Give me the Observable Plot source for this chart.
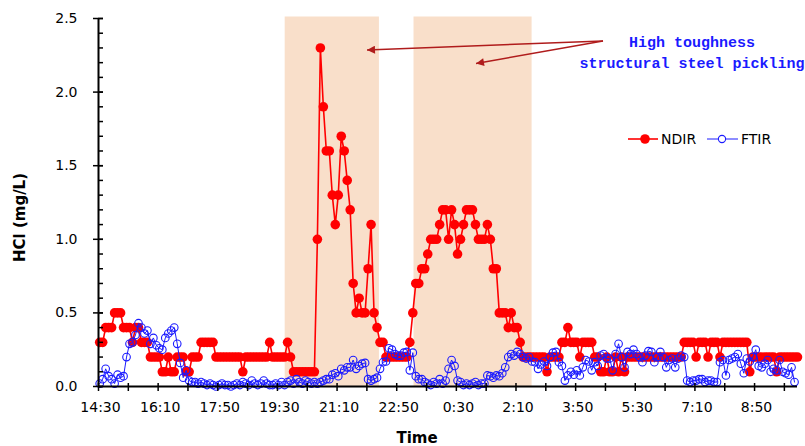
<!DOCTYPE html>
<html>
<head>
<meta charset="utf-8">
<script src="https://cdn.jsdelivr.net/npm/d3@7"></script>
<script src="https://cdn.jsdelivr.net/npm/@observablehq/plot@0.6"></script>
<style>
  html, body { margin: 0; padding: 0; background: #fff; }
  #chart { width: 805px; height: 446px; }
</style>
</head>
<body>
<div id="chart"></div>
<script>
// ---- data ----
const startTime = "14:30";
const sampleStepMin = 5;
const firstSampleOffsetMin = 2;

const ndir = [
  0.3,0.3,0.4,0.4,0.4,0.5,0.5,0.5,0.4,0.4,
  0.4,0.3,0.4,0.4,0.3,0.3,0.3,0.2,0.2,0.2,
  0.2,0.1,0.1,0.2,0.1,0.1,0.2,0.2,0.2,0.1,
  0.1,0.2,0.2,0.2,0.3,0.3,0.3,0.3,0.3,0.2,
  0.2,0.2,0.2,0.2,0.2,0.2,0.2,0.2,0.1,0.2,
  0.2,0.2,0.2,0.2,0.2,0.2,0.2,0.3,0.2,0.2,
  0.2,0.2,0.2,0.3,0.2,0.1,0.1,0.1,0.1,0.1,
  0.1,0.1,0.1,1.0,2.3,1.9,1.6,1.6,1.3,1.1,
  1.3,1.7,1.6,1.4,1.2,0.7,0.5,0.6,0.5,0.5,
  0.8,1.1,0.5,0.4,0.3,0.3,0.2,0.2,0.2,0.2,
  0.2,0.2,0.2,0.2,0.3,0.5,0.7,0.7,0.8,0.8,
  0.9,1.0,1.0,1.0,1.1,1.2,1.2,1.0,1.2,1.1,
  0.9,1.0,1.1,1.2,1.2,1.2,1.1,1.0,1.0,1.0,
  1.1,1.0,0.8,0.8,0.5,0.5,0.5,0.4,0.5,0.4,
  0.4,0.3,0.2,0.2,0.2,0.2,0.2,0.2,0.2,0.2,
  0.1,0.2,0.2,0.2,0.2,0.3,0.3,0.4,0.3,0.3,
  0.3,0.2,0.3,0.3,0.3,0.3,0.2,0.2,0.1,0.1,
  0.2,0.1,0.1,0.2,0.1,0.2,0.1,0.2,0.2,0.2,
  0.2,0.2,0.2,0.2,0.2,0.2,0.2,0.2,0.2,0.2,
  0.2,0.2,0.2,0.2,0.2,0.2,0.3,0.3,0.3,0.3,
  0.2,0.3,0.3,0.3,0.2,0.3,0.3,0.3,0.2,0.3,
  0.3,0.3,0.3,0.3,0.3,0.3,0.3,0.3,0.1,0.2,
  0.2,0.2,0.2,0.2,0.2,0.2,0.2,0.1,0.2,0.2,
  0.2,0.2,0.2,0.2,0.2
];

const ftir = [
  0.02,0.05,0.12,0.07,0.05,0.02,0.08,0.06,0.07,0.20,
  0.29,0.30,0.35,0.43,0.40,0.36,0.38,0.29,0.33,0.28,
  0.26,0.25,0.33,0.36,0.38,0.40,0.29,0.16,0.06,0.11,
  0.04,0.03,0.03,0.02,0.03,0.02,0.01,0.02,0.01,0.00,
  0.01,0.02,0.01,0.01,0.00,0.01,0.02,0.01,0.03,0.02,
  0.01,0.04,0.02,0.01,0.02,0.04,0.02,0.01,0.01,0.02,
  0.01,0.03,0.01,0.03,0.04,0.02,0.05,0.03,0.02,0.04,
  0.03,0.02,0.03,0.02,0.03,0.04,0.05,0.05,0.08,0.09,
  0.07,0.12,0.11,0.13,0.13,0.18,0.12,0.14,0.155,0.16,
  0.05,0.04,0.05,0.06,0.12,0.165,0.17,0.26,0.25,0.22,
  0.21,0.21,0.23,0.235,0.11,0.23,0.07,0.05,0.05,0.03,
  0.02,0.01,0.03,0.02,0.05,0.02,0.04,0.12,0.18,0.14,
  0.04,0.03,0.01,0.02,0.01,0.02,0.03,0.01,0.02,0.02,
  0.075,0.07,0.06,0.075,0.07,0.09,0.13,0.20,0.22,0.21,
  0.235,0.22,0.20,0.19,0.20,0.17,0.165,0.12,0.15,0.17,
  0.14,0.20,0.23,0.235,0.165,0.14,0.04,0.075,0.10,0.08,
  0.11,0.075,0.13,0.18,0.17,0.11,0.165,0.14,0.21,0.22,
  0.19,0.19,0.11,0.22,0.29,0.20,0.13,0.235,0.22,0.25,
  0.22,0.20,0.165,0.21,0.24,0.235,0.165,0.20,0.235,0.20,
  0.13,0.18,0.19,0.13,0.19,0.21,0.20,0.04,0.03,0.04,
  0.04,0.05,0.05,0.03,0.04,0.04,0.03,0.03,0.165,0.18,
  0.075,0.18,0.19,0.20,0.22,0.155,0.09,0.19,0.17,0.20,
  0.25,0.14,0.13,0.155,0.18,0.10,0.12,0.11,0.18,0.10,
  0.09,0.08,0.13,0.03
];

const xTickLabels = ["14:30","16:10","17:50","19:30","21:10","22:50","0:30","2:10","3:50","5:30","7:10","8:50"];
const yTickLabels = ["0.0","0.5","1.0","1.5","2.0","2.5"];
const picklingStart = ["19:43","23:19"];
const picklingEnd = ["22:21","2:37"];
const seriesNames = ["NDIR","FTIR"];
const annotationLines = ["High toughness","structural steel pickling"];
const axisTitleX = "Time";
const axisTitleY = "HCl (mg/L)";

// ---- helpers ----
function toMin(s) {
  const [h, m] = s.split(":").map(Number);
  const [h0, m0] = startTime.split(":").map(Number);
  let d = (h * 60 + m) - (h0 * 60 + m0);
  if (d < 0) d += 1440;
  return d;
}
const ndirData = ndir.map((v, i) => ({t: firstSampleOffsetMin + i * sampleStepMin, v}));
const ftirData = ftir.map((v, i) => ({t: firstSampleOffsetMin + i * sampleStepMin, v}));
const periods = picklingStart.map((s, i) => ({start: toMin(s), end: toMin(picklingEnd[i])}));

const W = 805, H = 446, mL = 98, mR = 8, mT = 18, mB = 60;
const frameW = W - mL - mR, frameH = H - mT - mB;
const RED = "#ff0000", BLUE = "#1a1aff", ARROW = "#b01c1c";

const xMajor = d3.range(0, 1101, 100);
const xAll = d3.range(0, 1151, 50);
const yMajor = d3.range(0, 6).map(i => i * 0.5);
const yMinor = d3.range(0, 26).map(i => i / 10);

const plot = Plot.plot({
  width: W, height: H,
  marginLeft: mL, marginRight: mR, marginTop: mT, marginBottom: mB,
  style: {fontFamily: "'DejaVu Sans', Verdana, sans-serif", fontSize: "14px", color: "#000", background: "#fff", overflow: "visible"},
  x: {domain: [0, 1172]},
  y: {domain: [0, 2.5]},
  marks: [
    Plot.rect(periods, {x1: "start", x2: "end", fill: "#f9dfca", insetTop: -1.5}),
    Plot.line(ndirData, {x: "t", y: "v", stroke: RED, strokeWidth: 1.6}),
    Plot.dot(ndirData, {x: "t", y: "v", r: 4.8, fill: RED, stroke: "none"}),
    Plot.line(ftirData, {x: "t", y: "v", stroke: BLUE, strokeWidth: 1}),
    Plot.dot(ftirData, {x: "t", y: "v", r: 3.8, fill: "none", stroke: BLUE, strokeWidth: 1.1}),
    // y ticks
    Plot.tickY(yMinor, {y: d => d, insetRight: frameW - 5, stroke: "#000", strokeWidth: 1.5}),
    Plot.tickY(yMajor, {y: d => d, insetLeft: -5, insetRight: frameW - 5, stroke: "#000", strokeWidth: 1.5}),
    Plot.axisY({ticks: yMajor, tickSize: 0, tickPadding: 21, label: null,
      tickFormat: d => yTickLabels[Math.round(d / 0.5)], fontSize: 14}),
    // x ticks
    Plot.tickX(xAll, {x: d => d, insetTop: frameH - 3, insetBottom: -5, stroke: "#000", strokeWidth: 1.5}),
    Plot.axisX({ticks: xMajor, tickSize: 0, tickPadding: 16, label: null, dx: 2,
      tickFormat: d => xTickLabels[Math.round(d / 100)], fontSize: 14}),
    // axis lines
    Plot.ruleX([0], {stroke: "#000", strokeWidth: 2}),
    Plot.ruleY([0], {stroke: "#000", strokeWidth: 2}),
    // axis titles
    Plot.text([axisTitleX], {text: d => d, frameAnchor: "bottom", textAnchor: "middle", lineAnchor: "middle",
      dx: -31, dy: 52, fontWeight: "bold", fontSize: 15}),
    Plot.text([axisTitleY], {text: d => d, frameAnchor: "left", textAnchor: "middle", lineAnchor: "middle",
      dx: -78, dy: 15, rotate: -90, fontWeight: "bold", fontSize: 15})
  ]
});

document.getElementById("chart").appendChild(plot);

// ---- annotation and legend (overlay) ----
const svg = d3.select(plot);
const defs = svg.append("defs");
defs.append("marker")
  .attr("id", "arrowhead")
  .attr("viewBox", "0 0 10 10")
  .attr("refX", 10).attr("refY", 5)
  .attr("markerUnits", "userSpaceOnUse")
  .attr("markerWidth", 10).attr("markerHeight", 8)
  .attr("orient", "auto")
  .append("path").attr("d", "M0,0 L10,5 L0,10 Z").attr("fill", ARROW);

const ann = svg.append("g");
const arrowTails = [[603, 41], [603, 41]];
const arrowTips = [[367, 50], [476, 63.5]];
arrowTips.forEach((tip, i) => {
  ann.append("line")
    .attr("x1", arrowTails[i][0]).attr("y1", arrowTails[i][1])
    .attr("x2", tip[0]).attr("y2", tip[1])
    .attr("stroke", ARROW).attr("stroke-width", 1.5)
    .attr("marker-end", "url(#arrowhead)");
});
annotationLines.forEach((t, i) => {
  ann.append("text")
    .attr("x", 692).attr("y", 46.5 + i * 21)
    .attr("text-anchor", "middle")
    .attr("font-family", "'Liberation Mono', 'Courier New', monospace")
    .attr("font-weight", "bold")
    .attr("font-size", 15)
    .attr("fill", BLUE)
    .text(t);
});

const leg = svg.append("g")
  .attr("font-family", "'DejaVu Sans', Verdana, sans-serif")
  .attr("font-size", 14)
  .attr("text-anchor", "start");
// NDIR
leg.append("line").attr("x1", 628).attr("x2", 658).attr("y1", 139).attr("y2", 139).attr("stroke", RED).attr("stroke-width", 1.6);
leg.append("circle").attr("cx", 645).attr("cy", 139).attr("r", 4.8).attr("fill", RED);
leg.append("text").attr("x", 661).attr("y", 144).attr("text-anchor", "start").text(seriesNames[0]);
// FTIR
leg.append("line").attr("x1", 707).attr("x2", 738).attr("y1", 139).attr("y2", 139).attr("stroke", BLUE).attr("stroke-width", 1);
leg.append("circle").attr("cx", 722).attr("cy", 139).attr("r", 3.6).attr("fill", "#fff").attr("stroke", BLUE).attr("stroke-width", 1.1);
leg.append("text").attr("x", 741).attr("y", 144).attr("text-anchor", "start").text(seriesNames[1]);
</script>
</body>
</html>
